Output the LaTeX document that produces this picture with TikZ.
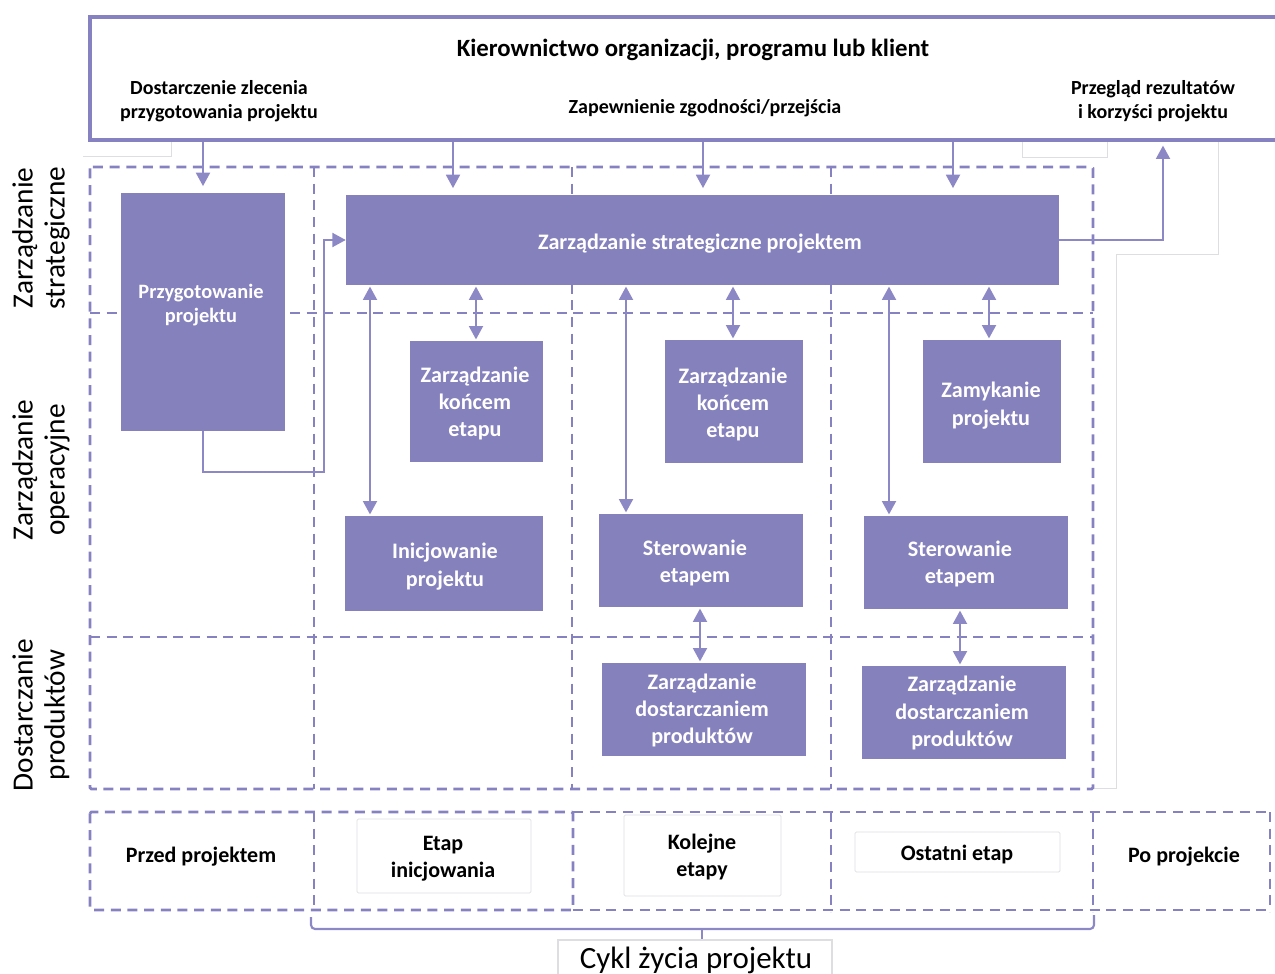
\documentclass[tikz,border=0pt]{standalone}
\usepackage{fontspec}
\setmainfont{Carlito}
\usetikzlibrary{arrows.meta,fit}
\definecolor{pboxc}{RGB}{133,129,188}
\definecolor{plinec}{RGB}{140,136,198}
\definecolor{pdashc}{RGB}{134,130,194}
\definecolor{faint}{RGB}{222,222,226}
\begin{document}
\begin{tikzpicture}[x=0.75pt,y=-0.75pt,
  pbox/.style 2 args={fill=pboxc,draw=none,inner sep=0pt,
    minimum width=#1*0.75pt,minimum height=#2*0.75pt},
  ptxt/.style={text=white,align=center,inner sep=0pt,yshift=-1.5pt,
    font=\bfseries\fontsize{16.6}{20.6}\selectfont},
  dashln/.style={draw=pdashc,line width=2.1pt,dash pattern=on 7.5pt off 5pt},
  conn/.style={draw=plinec,line width=1.4pt},
  arr/.style={-{Triangle[width=10.5pt,length=10pt]}},
  darr/.style={{Triangle[width=10.5pt,length=10pt]}-{Triangle[width=10.5pt,length=10pt]}},
  toptxt/.style={font=\bfseries\fontsize{15}{18}\selectfont,align=center,inner sep=0pt,yshift=-1.5pt},
  sidetxt/.style={font=\fontsize{22}{24}\selectfont,align=center,rotate=90,inner sep=0pt},
  bottxt/.style={font=\bfseries\fontsize{16.5}{20}\selectfont,align=center,inner sep=0pt,yshift=-1.5pt},
  faintbox/.style={draw=faint,line width=0.6pt,rounded corners=1pt}
]
\useasboundingbox (0,0) rectangle (1275,974);

% faint artefact lines
\draw[draw=faint,line width=0.6pt] (83,156) -- (171,156) -- (171,140);
\draw[draw=faint,line width=0.6pt] (1022,140) -- (1022,157) -- (1107,157) -- (1107,140);
\draw[draw=faint,line width=0.6pt] (1218,140) -- (1218,254) -- (1116,254) -- (1116,788) -- (1093,788);

% top box
\node[fit={(90,17)(1300,140)},inner sep=0pt,draw=pdashc,line width=2.4pt] (top) {};
\node[font=\bfseries\fontsize{18.6}{22}\selectfont,inner sep=0pt,yshift=-1.5pt] (ttl) at (693,48) {Kierownictwo organizacji, programu lub klient};
\node[toptxt] (t1) at (219,99) {Dostarczenie zlecenia\\przygotowania projektu};
\node[toptxt] (t2) at (705,106) {Zapewnienie zgodności/przejścia};
\node[toptxt] (t3) at (1153,99) {Przegląd rezultatów\\i korzyści projektu};

% dashed grid
\draw[dashln,rounded corners=1pt] (90,167) rectangle (1093,789);
\foreach \xx in {314,572,831} \draw[dashln] (\xx,167) -- (\xx,789);
\foreach \yy in {313,637} \draw[dashln] (90,\yy) -- (1093,\yy);

% bottom row dashed
\draw[dashln,rounded corners=1pt] (90,812) rectangle (573,910);
\draw[dashln] (314,812) -- (314,910);
\draw[dashln] (573,812) -- (1270,812);
\draw[dashln] (573,910) -- (1270,910);
\foreach \xx in {831,1093,1270} \draw[dashln] (\xx,812) -- (\xx,912);

% side labels
\node[sidetxt] (s1) at (41,238) {Zarządzanie\\strategiczne};
\node[sidetxt] (s2) at (41,470) {Zarządzanie\\operacyjne};
\node[sidetxt] (s3) at (41,715) {Dostarczanie\\produktów};

% purple boxes
\node[pbox={164}{238}] (prz) at (203,312) {};
\node[pbox={713}{90}] (str) at (702.5,240) {};
\node[pbox={133}{121}] (ke1) at (476.5,401.5) {};
\node[pbox={138}{123}] (ke2) at (734,401.5) {};
\node[pbox={138}{123}] (zam) at (992,401.5) {};
\node[pbox={198}{95}] (ini) at (444,563.5) {};
\node[pbox={204}{93}] (ste1) at (701,560.5) {};
\node[pbox={204}{93}] (ste2) at (966,562.5) {};
\node[pbox={204}{93}] (zd1) at (704,709.5) {};
\node[pbox={204}{93}] (zd2) at (964,712.5) {};

% box texts
\node[ptxt,font=\bfseries\fontsize{15.3}{18}\selectfont] (przt) at (201,303) {Przygotowanie\\projektu};
\node[ptxt] (strt) at (700,242) {Zarządzanie strategiczne projektem};
\node[ptxt] (ke1t) at (475,401.5) {Zarządzanie\\końcem\\etapu};
\node[ptxt] (ke2t) at (733,402.5) {Zarządzanie\\końcem\\etapu};
\node[ptxt] (zamt) at (991,403.5) {Zamykanie\\projektu};
\node[ptxt] (init) at (445,564.5) {Inicjowanie\\projektu};
\node[ptxt] (ste1t) at (695,561) {Sterowanie\\etapem};
\node[ptxt] (ste2t) at (960,562) {Sterowanie\\etapem};
\node[ptxt] (zd1t) at (702,708.5) {Zarządzanie\\dostarczaniem\\produktów};
\node[ptxt] (zd2t) at (962,711) {Zarządzanie\\dostarczaniem\\produktów};

% arrows from top box
\draw[conn,arr,shorten >=5pt] (top.south -| prz.north) -- (prz.north);
\foreach \xx in {453,703,953}
  \draw[conn,arr,shorten >=5pt] (\xx,0 |- top.south) -- (\xx,0 |- str.north);
\draw[conn,arr] (prz.south) -- (203,472) -- (324,472) -- (324,240) -- (str.west);
\draw[conn,arr,shorten >=3pt] (str.east) -- (1163,240) -- (1163,0 |- top.south);

% double arrows
\draw[conn,darr,shorten <=1pt,shorten >=1pt] (370,0 |- str.south) -- (370,0 |- ini.north);
\draw[conn,darr,shorten <=1pt,shorten >=1pt] (476,0 |- str.south) -- (476,0 |- ke1.north);
\draw[conn,darr,shorten <=1pt,shorten >=1pt] (626,0 |- str.south) -- (626,0 |- ste1.north);
\draw[conn,darr,shorten <=1pt,shorten >=1pt] (733,0 |- str.south) -- (733,0 |- ke2.north);
\draw[conn,darr,shorten <=1pt,shorten >=1pt] (889,0 |- str.south) -- (889,0 |- ste2.north);
\draw[conn,darr,shorten <=1pt,shorten >=1pt] (989,0 |- str.south) -- (989,0 |- zam.north);
\draw[conn,darr,shorten <=1pt,shorten >=1pt] (700,0 |- ste1.south) -- (700,0 |- zd1.north);
\draw[conn,darr,shorten <=1pt,shorten >=1pt] (960,0 |- ste2.south) -- (960,0 |- zd2.north);

% bottom labels
\node[faintbox,fit={(357,819)(531,893)},inner sep=0pt] (bb2) {};
\node[faintbox,fit={(624,815)(781,896)},inner sep=0pt] (bb3) {};
\node[faintbox,fit={(855,832)(1060,872)},inner sep=0pt] (bb4) {};
\node[bottxt] (b1) at (201,855) {Przed projektem};
\node[bottxt] (b2) at (443,857) {Etap\\inicjowania};
\node[bottxt] (b3) at (702,855) {Kolejne\\etapy};
\node[bottxt] (b4) at (957,853) {Ostatni etap};
\node[bottxt] (b5) at (1184,855) {Po projekcie};

% life cycle bracket
\node[draw=faint,line width=0.8pt,fit={(558,940)(832,990)},inner sep=0pt] (cyb) {};
\node[font=\fontsize{23.2}{26}\selectfont,inner sep=0pt] (cyt) at (696,960) {Cykl życia projektu};
\draw[conn,line width=1.6pt,rounded corners=3pt] (311,917) -- (311,929) -- (1094,929) -- (1094,915);
\draw[conn,line width=1.6pt] (702,929) -- (702,0 |- cyb.north);
\end{tikzpicture}
\end{document}
